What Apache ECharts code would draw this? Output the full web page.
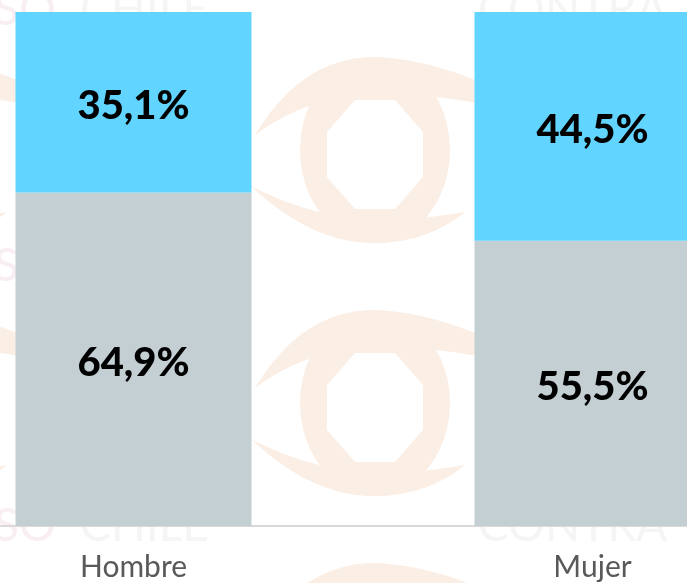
<!DOCTYPE html>
<html>
<head>
<meta charset="utf-8">
<script src="https://cdn.jsdelivr.net/npm/echarts@6/dist/echarts.min.js"></script>
<style>
  html, body { margin: 0; padding: 0; background: #fff; }
  #grafico { width: 687px; height: 583px; }
</style>
</head>
<body>
<div id="grafico"></div>
<script>
// Datos
const categorias = ['Hombre', 'Mujer'];
const gris = [64.9, 55.5];
const celeste = [35.1, 44.5];

const colorGris = '#C4CFD4';
const colorCeleste = '#61D5FF';
const colorMarca = '#FBEEE5';

// curva cuadrática muestreada en puntos (para la marca de agua)
function curva(p0, c, p1) {
    const pts = [];
    for (let i = 0; i <= 12; i++) {
        const t = i / 12, u = 1 - t;
        pts.push([u * u * p0[0] + 2 * u * t * c[0] + t * t * p1[0],
                  u * u * p0[1] + 2 * u * t * c[1] + t * t * p1[1]]);
    }
    return pts;
}

function elipse(rx, ry) {
    const pts = [];
    for (let i = 0; i < 48; i++) {
        const a = i / 48 * Math.PI * 2;
        pts.push([rx * Math.cos(a), ry * Math.sin(a)]);
    }
    return pts;
}

// Marca de agua (ojo) de fondo
function ojo(cx, cy) {
    const sup = [].concat(
        curva([-118, -15], [-70, -95], [5, -93]),
        curva([5, -93], [60, -90], [120, -62]),
        [[120, -44]],
        curva([120, -44], [60, -56], [5, -56]),
        curva([5, -56], [-65, -55], [-118, -15])
    );
    const inf = [].concat(
        curva([-122, 36], [-60, 95], [5, 93]),
        curva([5, 93], [55, 92], [92, 62]),
        curva([92, 62], [45, 70], [5, 70]),
        curva([5, 70], [-60, 68], [-122, 36])
    );
    const base = { type: 'polygon', z: 0, silent: true, x: cx, y: cy };
    return [
        Object.assign({}, base, { shape: { points: sup }, style: { fill: colorMarca } }),
        Object.assign({}, base, { shape: { points: inf }, style: { fill: colorMarca } }),
        Object.assign({}, base, { x: cx + 2, shape: { points: elipse(75, 92) }, style: { fill: colorMarca } }),
        Object.assign({}, base, {
            shape: { points: [[-18, -50], [22, -50], [50, -18], [50, 27], [22, 59], [-18, 59], [-46, 27], [-46, -18]] },
            style: { fill: '#fff' }
        })
    ];
}

function textoMarca(x, y, txt, color) {
    return {
        type: 'text', z: 0, silent: true,
        x: x, y: y,
        style: {
            text: txt, fill: color,
            font: '46px Lato', verticalAlign: 'middle'
        }
    };
}

const marca = []
    .concat(ojo(373, 150), ojo(373, 403), ojo(373, 656))
    .concat(ojo(-85, 150), ojo(-85, 403))
    .concat([
        textoMarca(-6, 10, 'SO', '#F8EEF3'),
        textoMarca(80, 10, 'CHILE', '#F5F5F5'),
        textoMarca(478, 10, 'CONTRA', '#F5F5F5'),
        textoMarca(-6, 266, 'SO', '#F8EEF3'),
        textoMarca(-6, 526, 'SO', '#F8EEF3'),
        textoMarca(80, 526, 'CHILE', '#F5F5F5'),
        textoMarca(478, 526, 'CONTRA', '#F5F5F5')
    ]);

const etiqueta = {
    show: true,
    position: 'inside',
    offset: [0, 4],
    color: '#000',
    fontFamily: 'Lato',
    fontWeight: 900,
    fontSize: 40,
    formatter: p => p.value.toFixed(1).replace('.', ',') + '%'
};

let chart = echarts.init(document.getElementById('grafico'));
chart.setOption({
    animation: false,
    backgroundColor: '#fff',
    graphic: { elements: marca },
    grid: {
        left: -96, width: 918, top: 12, bottom: 57,
        containLabel: false, outerBoundsMode: 'none'
    },
    xAxis: {
        type: 'category',
        data: categorias,
        axisLine: { show: true, lineStyle: { color: '#D9D9D9', width: 2 } },
        axisTick: { show: false },
        axisLabel: {
            color: '#595959',
            fontFamily: 'Lato',
            fontSize: 30,
            margin: 26
        }
    },
    yAxis: {
        type: 'value',
        min: 0,
        max: 100,
        show: false,
        splitLine: { show: false }
    },
    series: [
        {
            type: 'bar',
            stack: 'total',
            data: gris,
            barWidth: 236,
            itemStyle: { color: colorGris },
            label: etiqueta,
            z: 5
        },
        {
            type: 'bar',
            stack: 'total',
            data: celeste,
            barWidth: 236,
            itemStyle: { color: colorCeleste },
            label: etiqueta,
            z: 5
        }
    ]
});
</script>
</body>
</html>
